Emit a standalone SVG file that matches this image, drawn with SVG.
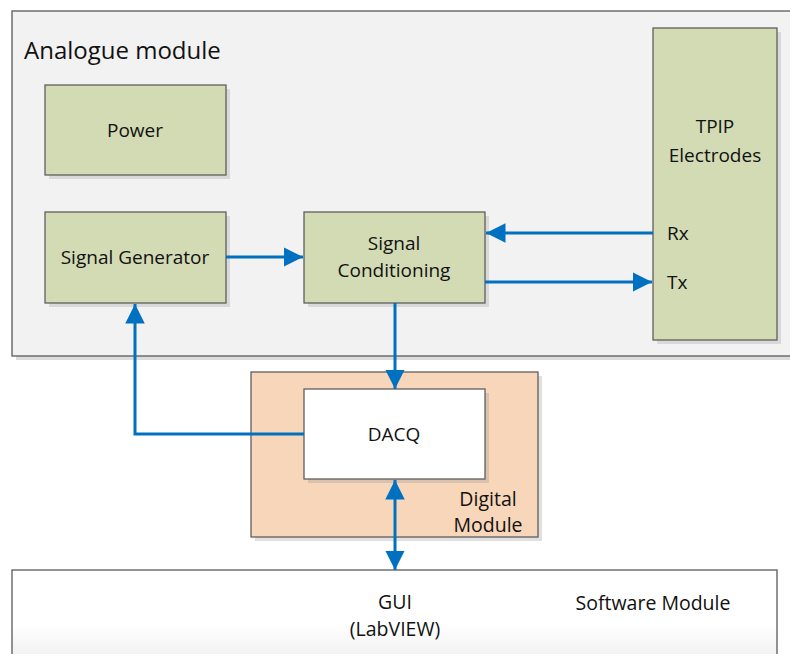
<svg xmlns="http://www.w3.org/2000/svg" width="790" height="654" viewBox="0 0 790 654">
<defs>
<marker id="ah" viewBox="0 0 10 10" refX="10" refY="5" markerWidth="6.5" markerHeight="6.5" markerUnits="strokeWidth" orient="auto-start-reverse">
<path d="M0,0 L10,5 L0,10 z" fill="#0070c0"/>
</marker>
<linearGradient id="sw" x1="0" y1="0" x2="0" y2="1">
<stop offset="0" stop-color="#ffffff"/>
<stop offset="0.6" stop-color="#ffffff"/>
<stop offset="1" stop-color="#f0f0f0"/>
</linearGradient>
</defs>
<style>
.t{font-family:"Open Sans","Noto Sans","DejaVu Sans",sans-serif;fill:#111;}
.n{font-size:19px;text-anchor:middle;}
.m{font-size:19.5px;text-anchor:middle;}
.box{fill:#d3dbb4;stroke:#5f5f5f;stroke-width:1.3;}
.sh{fill:#d9d9d9;}
.c{fill:none;stroke:#0070c0;stroke-width:3;}
</style>
<rect width="790" height="654" fill="#ffffff"/>
<g id="analogue-module">
<rect x="16" y="15" width="780" height="345" fill="#dcdcdc"/>
<rect x="12" y="11" width="782" height="345" fill="#f2f2f2" stroke="#595959" stroke-width="1.3"/>
<text class="t" x="24" y="59" font-size="24">Analogue module</text>
</g>
<g id="power">
<rect class="sh" x="49" y="89" width="181" height="90"/>
<rect class="box" x="45" y="85" width="181" height="90"/>
<text class="t n" x="135" y="137">Power</text>
</g>
<g id="signal-generator">
<rect class="sh" x="49" y="216" width="181" height="91"/>
<rect class="box" x="45" y="212" width="181" height="91"/>
<text class="t n" x="135" y="264">Signal Generator</text>
</g>
<g id="signal-conditioning">
<rect class="sh" x="308" y="216" width="181" height="91"/>
<rect class="box" x="304" y="212" width="181" height="91"/>
<text class="t n" x="394" y="250">Signal</text>
<text class="t n" x="394" y="277">Conditioning</text>
</g>
<g id="tpip-electrodes">
<rect class="sh" x="657" y="32" width="124" height="312"/>
<rect class="box" x="653" y="28" width="124" height="312"/>
<text class="t n" x="715" y="133">TPIP</text>
<text class="t n" x="715" y="162">Electrodes</text>
<text class="t" x="667" y="240" font-size="19">Rx</text>
<text class="t" x="667" y="289" font-size="19">Tx</text>
</g>
<g id="digital-module">
<rect x="255" y="376" width="287" height="165" fill="#e0e0e0"/>
<rect x="251" y="372" width="287" height="165" fill="#f8d6b9" stroke="#5f5f5f" stroke-width="1.3"/>
<text class="t m" x="488" y="506">Digital</text>
<text class="t m" x="488" y="532">Module</text>
</g>
<g id="dacq">
<rect x="308" y="393" width="181" height="90" fill="#d9c2ad"/>
<rect x="304" y="389" width="181" height="90" fill="#ffffff" stroke="#5f5f5f" stroke-width="1.3"/>
<text class="t n" x="394" y="441">DACQ</text>
</g>
<g id="software-module">
<rect x="12" y="570" width="765" height="90" fill="url(#sw)" stroke="#595959" stroke-width="1.3"/>
<text class="t m" x="395" y="609">GUI</text>
<text class="t m" x="395" y="636">(LabVIEW)</text>
<text class="t m" x="653" y="610" font-size="21">Software Module</text>
</g>
<g id="connectors">
<line class="c" x1="226" y1="257" x2="303" y2="257" marker-end="url(#ah)"/>
<line class="c" x1="653" y1="233" x2="486" y2="233" marker-end="url(#ah)"/>
<line class="c" x1="485" y1="282" x2="652" y2="282" marker-end="url(#ah)"/>
<line class="c" x1="395" y1="303" x2="395" y2="389" marker-end="url(#ah)"/>
<polyline class="c" points="304,434 135,434 135,304" marker-end="url(#ah)"/>
<line class="c" x1="395" y1="480" x2="395" y2="570" marker-start="url(#ah)" marker-end="url(#ah)"/>
</g>
</svg>
